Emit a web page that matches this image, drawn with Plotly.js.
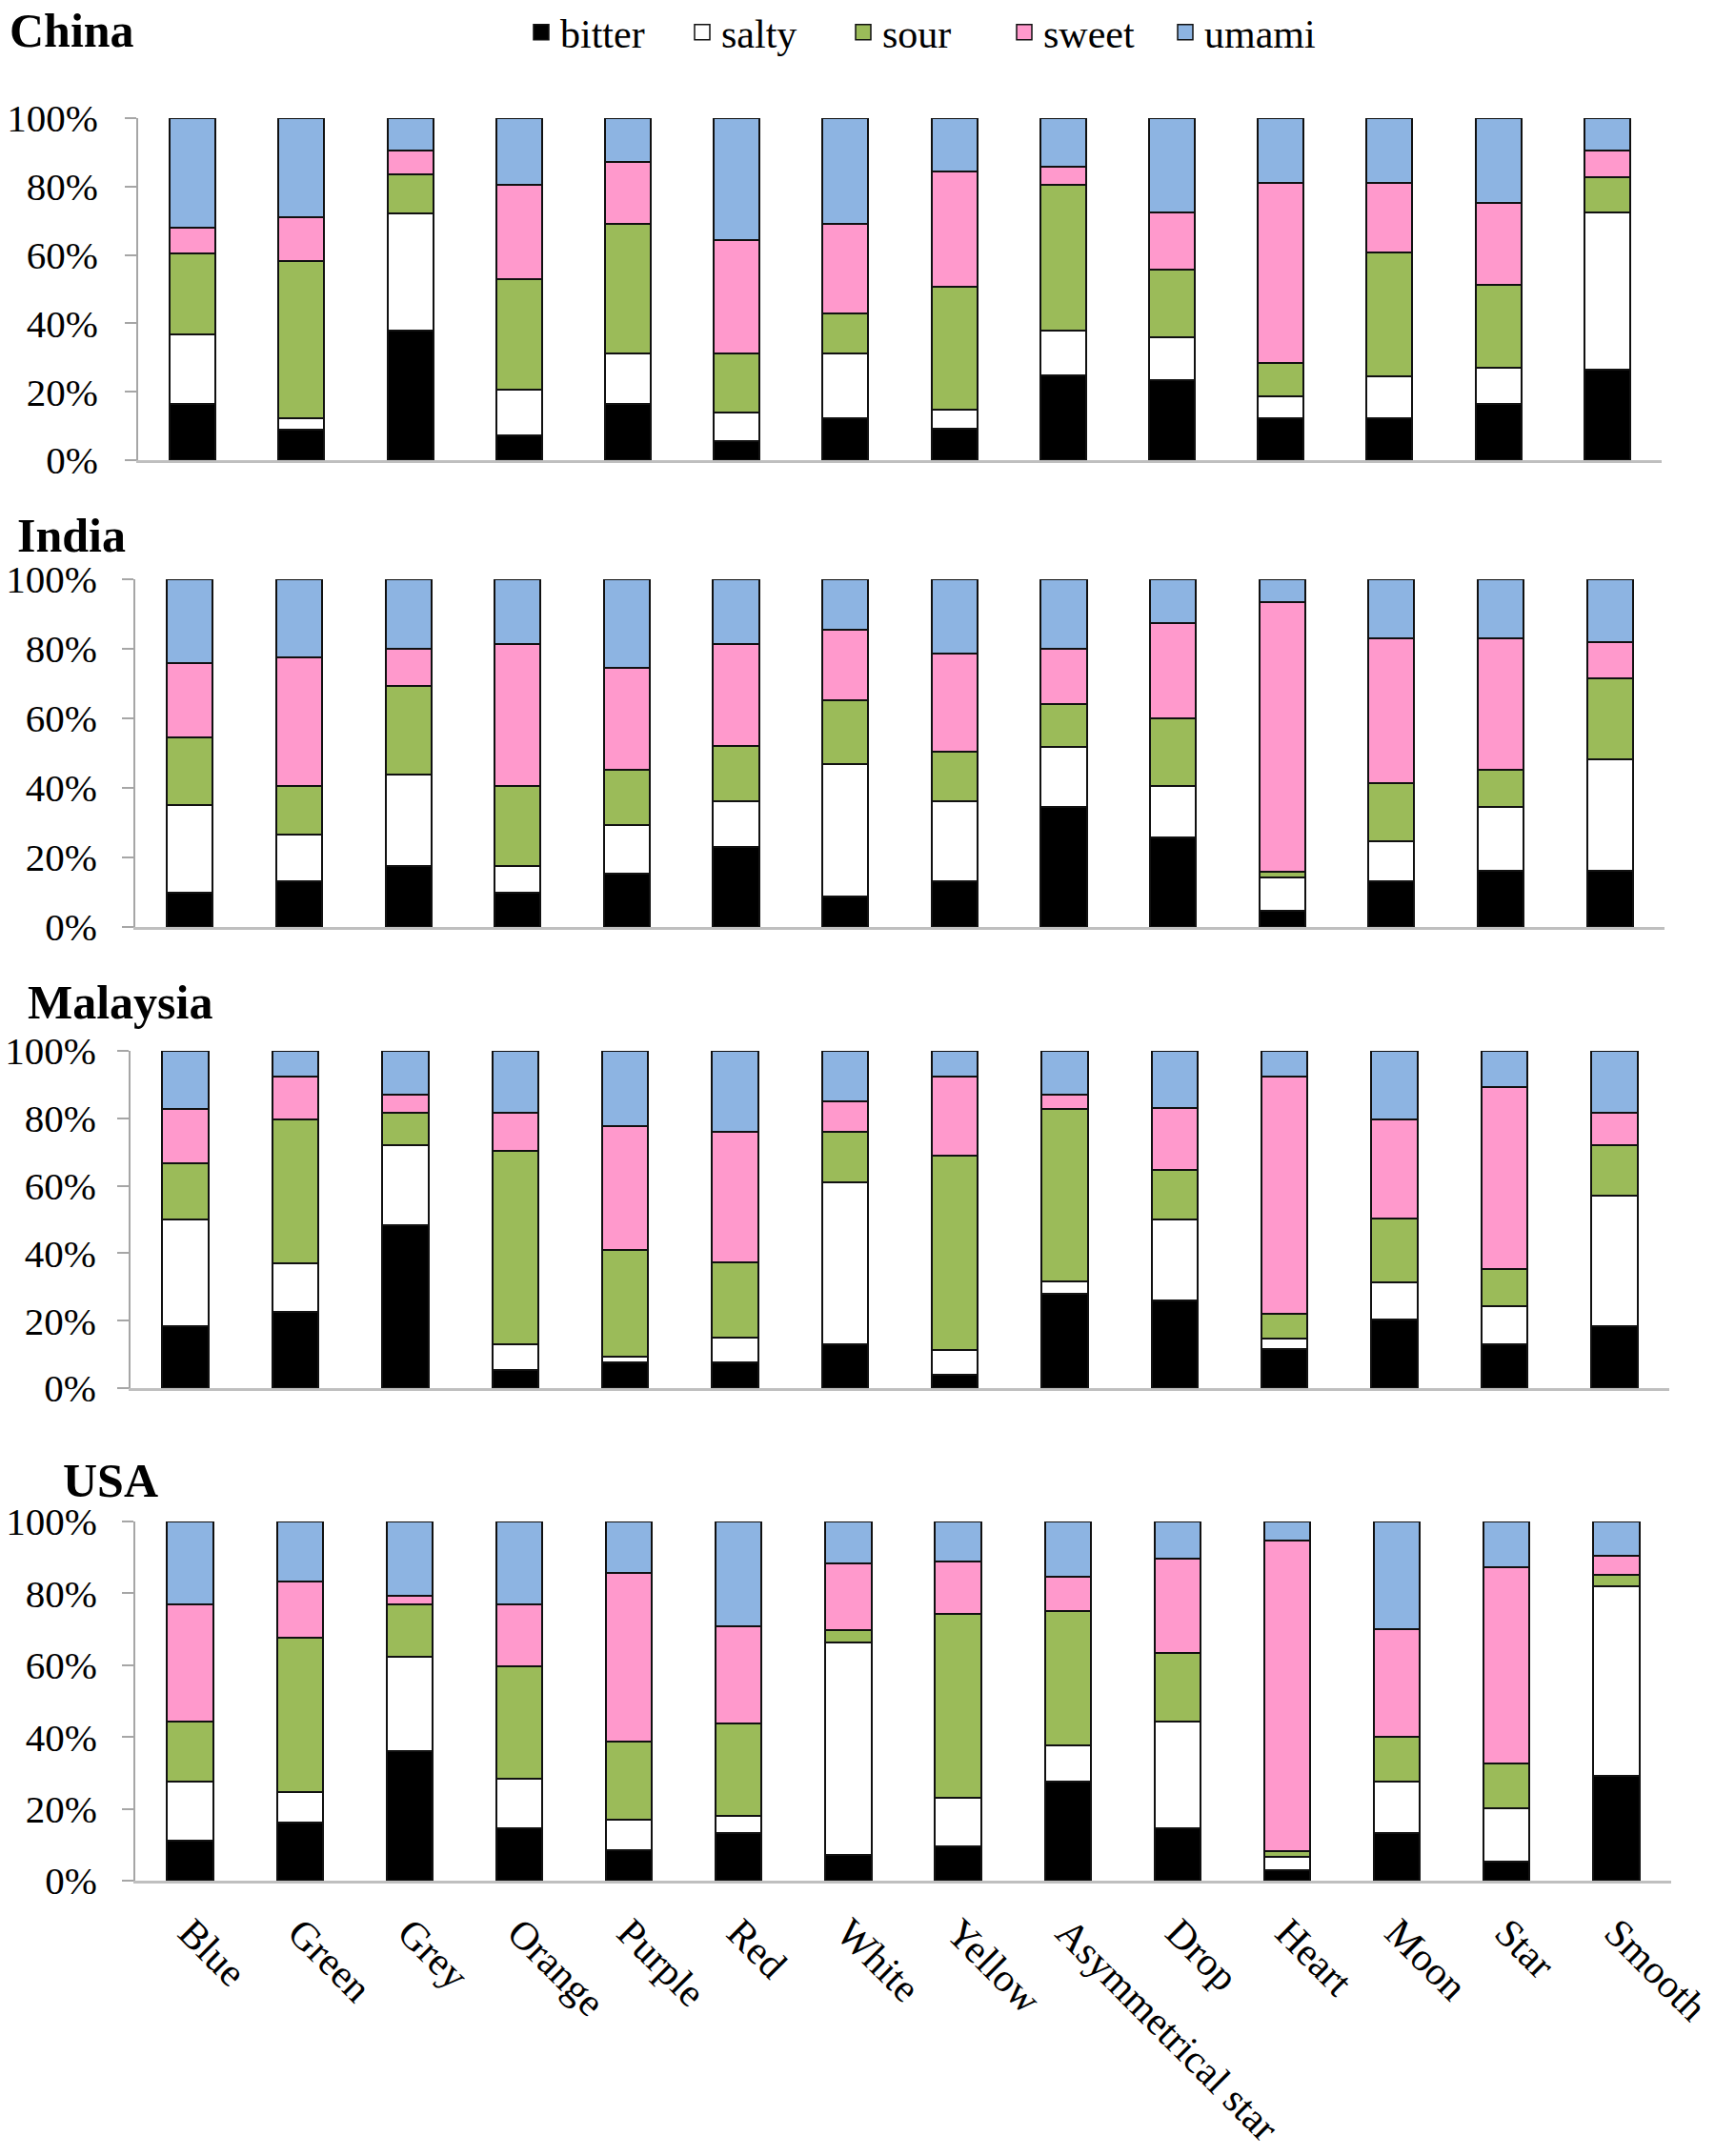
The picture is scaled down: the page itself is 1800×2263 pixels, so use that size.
<!DOCTYPE html>
<html>
<head>
<meta charset="utf-8">
<script src="https://cdn.plot.ly/plotly-3.0.1.min.js"></script>
<style>
  html, body { margin: 0; padding: 0; background: #fff; }
  #chart { width: 1800px; height: 2263px; }
</style>
</head>
<body>
<div id="chart"></div>
<script>
// categories (colours then shapes)
const categories = ["Blue", "Green", "Grey", "Orange", "Purple", "Red", "White",
                    "Yellow", "Asymmetrical star", "Drop", "Heart", "Moon", "Star", "Smooth"]
const tastes = ["bitter", "salty", "sour", "sweet", "umami"]
const countries = ["China", "India", "Malaysia", "USA"]
const yTickValues = [0, 20, 40, 60, 80, 100]
const yTickLabels = ["0%", "20%", "40%", "60%", "80%", "100%"]

// share of responses (%)
const chinaBitter = [16.5, 8.8, 38.0, 7.2, 16.5, 5.6, 12.2, 9.3, 24.9, 23.5, 12.2, 12.2, 16.5, 26.4]
const chinaSalty  = [20.3, 3.4, 34.2, 13.4, 14.8, 8.3, 19.1, 5.5, 13.1, 12.4, 6.4, 12.4, 10.4, 46.0]
const chinaSour   = [23.7, 46.0, 11.3, 32.3, 37.7, 17.4, 11.6, 35.8, 42.4, 19.8, 9.9, 36.0, 24.3, 10.2]
const chinaSweet  = [7.5, 12.7, 6.9, 27.5, 18.2, 33.1, 26.1, 33.8, 5.4, 16.8, 52.6, 20.5, 23.9, 7.9]
const chinaUmami  = [32.0, 29.1, 9.6, 19.6, 12.8, 35.6, 31.0, 15.6, 14.2, 27.5, 18.9, 18.9, 24.9, 9.5]

const indiaBitter = [10.0, 13.2, 17.6, 10.0, 15.3, 23.1, 8.9, 13.2, 34.5, 25.8, 4.7, 13.2, 16.2, 16.2]
const indiaSalty  = [25.2, 13.3, 26.2, 7.4, 13.9, 13.0, 37.9, 22.9, 17.4, 14.8, 9.5, 11.5, 18.3, 31.9]
const indiaSour   = [19.2, 14.1, 25.4, 23.2, 15.9, 16.0, 18.5, 14.3, 12.1, 19.4, 1.8, 16.8, 10.6, 23.4]
const indiaSweet  = [21.6, 37.0, 10.9, 40.7, 29.5, 29.2, 20.1, 28.3, 16.1, 27.5, 77.4, 41.4, 37.8, 10.5]
const indiaUmami  = [24.0, 22.4, 19.9, 18.7, 25.4, 18.7, 14.6, 21.3, 19.9, 12.5, 6.6, 17.1, 17.1, 18.0]

const malaysiaBitter = [18.5, 22.5, 48.4, 5.4, 7.5, 7.5, 12.9, 4.0, 28.0, 25.9, 11.5, 20.4, 13.1, 18.5]
const malaysiaSalty  = [31.6, 14.6, 23.5, 7.5, 1.9, 7.6, 48.0, 7.3, 3.5, 24.2, 3.1, 10.9, 11.3, 38.7]
const malaysiaSour   = [16.5, 42.7, 9.6, 57.3, 31.5, 22.3, 15.1, 57.6, 51.4, 14.6, 7.5, 19.0, 10.9, 14.8]
const malaysiaSweet  = [16.3, 12.5, 5.5, 11.3, 36.7, 38.6, 9.1, 23.6, 4.1, 18.4, 70.2, 29.3, 53.9, 9.6]
const malaysiaUmami  = [17.1, 7.7, 13.0, 18.5, 22.4, 24.0, 14.9, 7.5, 13.0, 16.9, 7.7, 20.4, 10.8, 18.4]

const usaBitter = [11.2, 16.3, 36.0, 14.5, 8.4, 13.2, 7.1, 9.5, 27.6, 14.5, 2.8, 13.2, 5.3, 29.1]
const usaSalty  = [16.4, 8.4, 26.3, 13.9, 8.7, 4.9, 59.3, 13.6, 10.1, 29.8, 3.7, 14.4, 14.9, 52.8]
const usaSour   = [16.8, 42.9, 14.6, 31.2, 21.5, 25.7, 3.4, 51.1, 37.4, 19.0, 1.8, 12.5, 12.5, 3.3]
const usaSweet  = [32.5, 15.6, 2.5, 17.3, 47.0, 27.0, 18.5, 14.7, 9.4, 26.4, 86.4, 29.9, 54.5, 5.3]
const usaUmami  = [23.1, 16.8, 20.6, 23.1, 14.4, 29.2, 11.7, 11.1, 15.5, 10.3, 5.3, 30.0, 12.8, 9.5]

const seriesByCountry = [
  [chinaBitter, chinaSalty, chinaSour, chinaSweet, chinaUmami],
  [indiaBitter, indiaSalty, indiaSour, indiaSweet, indiaUmami],
  [malaysiaBitter, malaysiaSalty, malaysiaSour, malaysiaSweet, malaysiaUmami],
  [usaBitter, usaSalty, usaSour, usaSweet, usaUmami]
]

const tasteColors = ["#000000", "#FFFFFF", "#9BBB59", "#FF99CC", "#8DB4E2"]

const W = 1800, H = 2263
// panel boxes in pixels: [left, right, top(100%), bottom(0%)] and y label standoff
const panels = [
  [145, 1744, 124, 483],
  [142, 1747, 608, 973],
  [137, 1752, 1103, 1457],
  [142, 1754, 1597, 1974]
]
const labelStandoff = [20, 18, 14, 18]
const titlePos = [[8, 2], [16, 532], [27, 1022], [64, 1524]]

const serif = "'Liberation Serif', 'Times New Roman', serif"

const traces = []
seriesByCountry.forEach((series, p) => {
  const suffix = p === 0 ? "" : String(p + 1)
  series.forEach((values, t) => {
    traces.push({
      type: "bar",
      x: categories,
      y: values,
      name: tastes[t],
      legendgroup: tastes[t],
      showlegend: false,
      xaxis: "x" + suffix,
      yaxis: "y" + suffix,
      marker: { color: tasteColors[t], line: { color: "#111111", width: 2 } },
      hovertemplate: `${countries[p]} %{x}<br>${tastes[t]}: %{y}%<extra></extra>`
    })
  })
})

// legend-only entries: bigger square keys than the bar default
tastes.forEach((taste, t) => {
  traces.push({
    type: "scatter",
    mode: "markers",
    x: [null],
    y: [null],
    name: taste,
    legendgroup: taste,
    xaxis: "x",
    yaxis: "y",
    marker: { symbol: "square", size: 16, color: tasteColors[t], line: { color: "#111111", width: 1.5 } },
    hoverinfo: "skip"
  })
})

const layout = {
  width: W,
  height: H,
  margin: { l: 0, r: 0, t: 0, b: 0 },
  paper_bgcolor: "#FFFFFF",
  plot_bgcolor: "#FFFFFF",
  font: { family: serif, size: 42, color: "#000000" },
  barmode: "stack",
  barnorm: "percent",
  bargap: 0.58,
  showlegend: true,
  legend: {
    orientation: "h",
    x: 548 / W,
    xanchor: "left",
    y: 1,
    yanchor: "top",
    traceorder: "normal",
    itemsizing: "trace",
    itemwidth: 30,
    entrywidth: 124,
    font: { family: serif, size: 42, color: "#000000" },
    bgcolor: "rgba(0,0,0,0)"
  },
  annotations: countries.map((name, p) => ({
    text: name,
    xref: "paper", yref: "paper",
    x: titlePos[p][0] / W, y: 1 - titlePos[p][1] / H,
    xanchor: "left", yanchor: "top",
    showarrow: false,
    font: { family: serif, size: 50, weight: "bold", color: "#000000" }
  }))
}

panels.forEach((box, p) => {
  const suffix = p === 0 ? "" : String(p + 1)
  layout["xaxis" + suffix] = {
    domain: [box[0] / W, box[1] / W],
    anchor: "y" + suffix,
    type: "category",
    showline: true,
    linecolor: "#BFBFBF",
    linewidth: 3,
    ticks: "",
    showgrid: false,
    zeroline: false,
    showticklabels: p === 3,
    tickangle: 45,
    ticklabelstandoff: 10,
    tickfont: { family: serif, size: 42, color: "#000000" },
    fixedrange: true
  }
  layout["yaxis" + suffix] = {
    domain: [1 - box[3] / H, 1 - box[2] / H],
    anchor: "x" + suffix,
    range: [0, 100],
    tickmode: "array",
    tickvals: yTickValues,
    ticktext: yTickLabels,
    showline: true,
    linecolor: "#A6A6A6",
    linewidth: 2,
    ticks: "outside",
    ticklen: 12,
    tickwidth: 2,
    tickcolor: "#A6A6A6",
    ticklabelstandoff: labelStandoff[p],
    showgrid: false,
    zeroline: false,
    tickfont: { family: serif, size: 41, color: "#000000" },
    fixedrange: true
  }
})

Plotly.newPlot("chart", traces, layout, { displayModeBar: false, staticPlot: true })
</script>
</body>
</html>
